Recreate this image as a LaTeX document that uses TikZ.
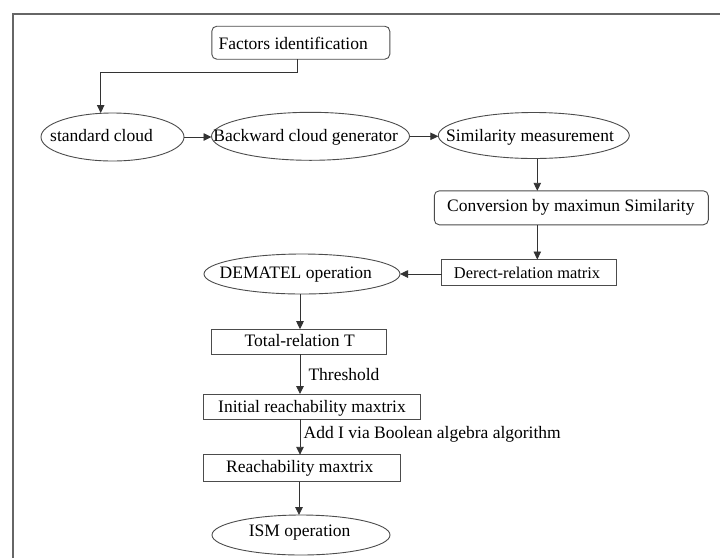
\documentclass[tikz,border=0pt]{standalone}
\usepackage{fontspec}
\setmainfont{Liberation Serif}
\usetikzlibrary{shapes.geometric,arrows.meta}
\begin{document}
\begin{tikzpicture}[x=1pt,y=-1pt,
  every node/.style={font=\fontsize{17.5}{20}\selectfont, text=black},
  shp/.style={draw=black!70, line width=0.9pt, inner sep=0pt, outer sep=0pt},
  rbox/.style={shp, rectangle, rounded corners=5pt},
  sbox/.style={shp, rectangle},
  ell/.style={shp, ellipse},
  txt/.style={anchor=base, inner sep=0pt},
  conn/.style={draw=black!80, line width=0.9pt, -{Triangle[length=8pt,width=7.5pt]}},
  line/.style={draw=black!80, line width=0.9pt},
  lbl/.style={anchor=base west, inner sep=0pt}
]
\useasboundingbox (0,0) rectangle (720,558);
\fill[white] (0,0) rectangle (720,558);
% frame
\draw[black!60, line width=1.3pt] (13,558) -- (13,14) -- (720,14);

% shapes
\node[rbox, minimum width=178pt, minimum height=33pt] (fac) at (300.8,42.7) {};
\node[ell, minimum width=143pt, minimum height=48pt] (std) at (112.5,137) {};
\node[ell, minimum width=198pt, minimum height=48pt] (back) at (310.5,136.3) {};
\node[ell, minimum width=191pt, minimum height=46pt] (sim) at (533.8,135.5) {};
\node[rbox, minimum width=274pt, minimum height=34pt] (conv) at (571.3,207.8) {};
\node[sbox, minimum width=175pt, minimum height=26pt] (der) at (529.3,272.5) {};
\node[ell, minimum width=196pt, minimum height=40pt] (dem) at (302,274) {};
\node[sbox, minimum width=175pt, minimum height=25pt] (tot) at (299.2,341.7) {};
\node[sbox, minimum width=217pt, minimum height=25pt] (ini) at (311.5,406.5) {};
\node[sbox, minimum width=197pt, minimum height=27pt] (rea) at (301.7,468.3) {};
\node[ell, minimum width=178pt, minimum height=40pt] (ism) at (301,535) {};

% texts of the shapes
\node[txt] (facT) at (293.2,49.3) {Factors identification};
\node[txt] (stdT) at (101.5,141.7) {standard cloud};
\node[txt] (backT) at (305.7,141.7) {Backward cloud generator};
\node[txt] (simT) at (530,141.7) {Similarity measurement};
\node[txt] (convT) at (570.8,211) {Conversion by maximun Similarity};
\node[txt, font=\fontsize{16.4}{19}\selectfont] (derT) at (527,278.3) {Derect-relation matrix};
\node[txt] (demT) at (295.8,278.8) {DEMATEL operation};
\node[txt] (totT) at (299.7,346.7) {Total-relation T};
\node[txt] (iniT) at (312,412.7) {Initial reachability maxtrix};
\node[txt] (reaT) at (299.7,472.8) {Reachability maxtrix};
\node[txt] (ismT) at (299.7,536.7) {ISM operation};

% edge labels
\node[lbl] (thr) at (308.3,380) {Threshold};
\node[lbl] (addi) at (303.5,438.5) {Add I via Boolean algebra algorithm};

% connectors
\coordinate (c1) at (297.7,72.3);
\coordinate (c2) at (100.7,72.3);
\draw[line] (fac.south -| c1) -- (c1) -- (c2);
\draw[conn] (c2) -- (c2 |- std.north);
\draw[conn] (std.east) -- (std.east -| back.west);
\draw[conn] (back.east) -- (back.east -| sim.west);
\coordinate (a1) at (537.3,0);
\draw[conn] (sim.south -| a1) -- (conv.north -| a1);
\draw[conn] (conv.south -| a1) -- (der.north -| a1);
\draw[conn] (der.west |- dem.east) -- (dem.east);
\coordinate (a2) at (300,0);
\draw[conn] (dem.south -| a2) -- (tot.north -| a2);
\draw[conn] (tot.south -| a2) -- (ini.north -| a2);
\draw[conn] (ini.south -| a2) -- (rea.north -| a2);
\coordinate (a3) at (299,0);
\draw[conn] (rea.south -| a3) -- (ism.north -| a3);
\end{tikzpicture}
\end{document}
